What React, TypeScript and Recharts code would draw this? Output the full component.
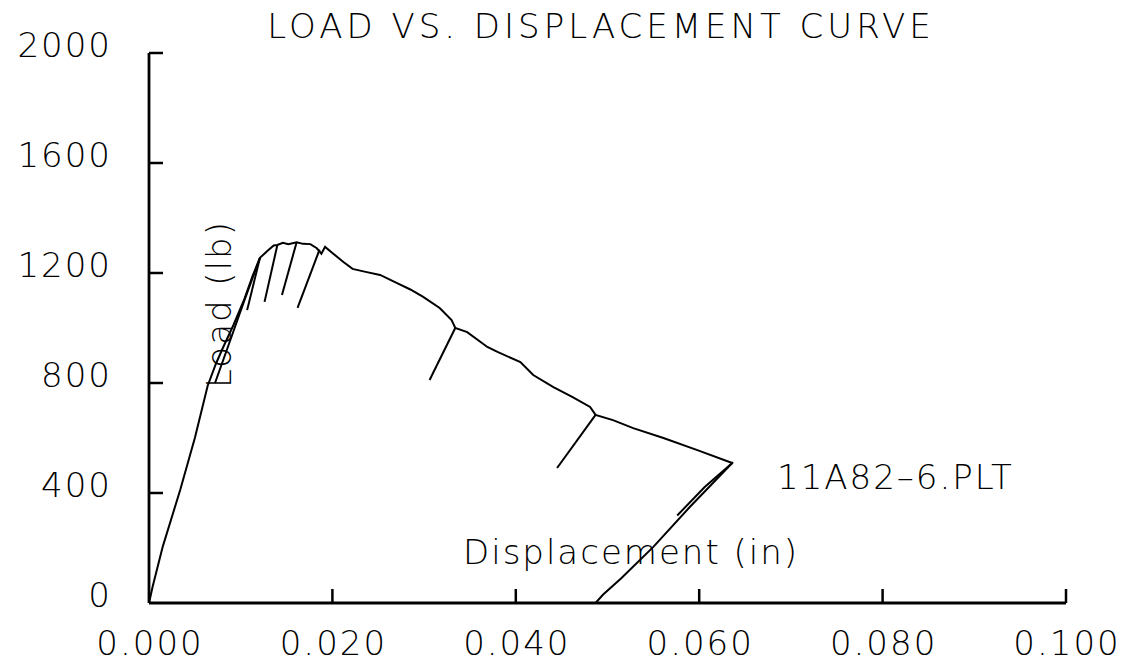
import React from 'react';
import { LineChart, Line, XAxis, YAxis } from 'recharts';

const FONT = '"DejaVu Sans", "Liberation Sans", sans-serif';

const xTicks = [0, 0.02, 0.04, 0.06, 0.08, 0.1];
const yTicks = [0, 400, 800, 1200, 1600, 2000];

const title = 'LOAD VS. DISPLACEMENT CURVE';
const xLabel = 'Displacement (in)';
const yLabel = 'Load (lb)';
const fileLabel = '11A82\u20136.PLT';

// [displacement (in), load (lb)]
const envelope: [number, number][] = [
  [0, 0], [0.0004, 60], [0.0015, 205], [0.0034, 411], [0.005, 600], [0.0064, 790], [0.0073, 870],
  [0.0081, 931], [0.0092, 1010], [0.0104, 1105], [0.0113, 1190], [0.0121, 1255],
  [0.0129, 1280], [0.0136, 1300], [0.014, 1302], [0.0146, 1310], [0.0152, 1305],
  [0.0161, 1312], [0.0168, 1306], [0.0176, 1305], [0.0183, 1290], [0.0188, 1270],
  [0.0192, 1295], [0.0201, 1270], [0.0212, 1240], [0.0222, 1215], [0.0235, 1205],
  [0.0252, 1193], [0.027, 1164], [0.0285, 1140], [0.0299, 1113], [0.0317, 1073],
  [0.033, 1029], [0.0334, 1000], [0.0347, 985], [0.0369, 931], [0.038, 913],
  [0.0405, 876], [0.0419, 829], [0.0441, 785], [0.0462, 749], [0.0481, 713],
  [0.0487, 684], [0.0506, 665], [0.0528, 636], [0.0561, 600], [0.0598, 556], [0.0636, 509],
];
const reload: [number, number][] = [[0.0072, 800], [0.0086, 931], [0.0104, 1100], [0.0121, 1255]];
const unloadA: [number, number][] = [[0.0121, 1255], [0.0107, 1065]];
const unloadB: [number, number][] = [[0.014, 1302], [0.0126, 1095]];
const unloadC: [number, number][] = [[0.0161, 1312], [0.0145, 1120]];
const unloadD: [number, number][] = [[0.0186, 1285], [0.0162, 1073]];
const unloadE: [number, number][] = [[0.0334, 1000], [0.0306, 811]];
const unloadF: [number, number][] = [[0.0487, 684], [0.0445, 491]];
const finalUnload: [number, number][] = [
  [0.0636, 509], [0.059, 350], [0.055, 204], [0.0515, 90], [0.0495, 30], [0.0487, 0],
];
const finalReload: [number, number][] = [[0.0576, 318], [0.0606, 422], [0.0637, 512]];

const seriesList = [envelope, reload, unloadA, unloadB, unloadC, unloadD, unloadE, unloadF, finalUnload, finalReload];

const toData = (pts: [number, number][]) => pts.map(([x, y]) => ({ x, y }));

const YTick = (props: any) => {
  const { x, y, payload } = props;
  return (
    <g>
      {payload.value !== 0 && (
        <line x1={x} y1={y} x2={x + 14} y2={y} stroke="#000" strokeWidth={2.5} />
      )}
      <text
        x={x - 37}
        y={y + 4}
        textAnchor="end"
        fontFamily={FONT}
        fontSize={34}
        fontWeight={200}
        letterSpacing={2}
        fill="#000"
      >
        {payload.value}
      </text>
    </g>
  );
};

const XTick = (props: any) => {
  const { x, y, payload } = props;
  return (
    <g>
      {payload.value !== 0 && (
        <line x1={x} y1={y} x2={x} y2={y - 14} stroke="#000" strokeWidth={2.5} />
      )}
      <text
        x={x + 1}
        y={y + 52}
        textAnchor="middle"
        fontFamily={FONT}
        fontSize={34}
        fontWeight={200}
        letterSpacing={2}
        fill="#000"
      >
        {payload.value.toFixed(3)}
      </text>
    </g>
  );
};

const textStyle = {
  fontFamily: FONT,
  fontSize: 34,
  fontWeight: 200,
  letterSpacing: 2,
  fill: '#000',
} as const;

export default function App() {
  return (
    <div style={{ position: 'absolute', left: 0, top: 0, width: 1125, height: 666, background: '#fff' }}>
      <LineChart
        width={1125}
        height={666}
        margin={{ top: 53, right: 59, bottom: 0, left: 0 }}
      >
        <XAxis
          dataKey="x"
          type="number"
          domain={[0, 0.1]}
          ticks={xTicks}
          interval={0}
          allowDataOverflow
          height={63}
          tickLine={false}
          tickSize={0}
          tickMargin={0}
          axisLine={{ stroke: '#000', strokeWidth: 2.8 }}
          tick={<XTick />}
        />
        <YAxis
          dataKey="y"
          type="number"
          domain={[0, 2000]}
          ticks={yTicks}
          interval={0}
          allowDataOverflow
          width={149}
          tickLine={false}
          tickSize={0}
          tickMargin={0}
          axisLine={{ stroke: '#000', strokeWidth: 2.8 }}
          tick={<YTick />}
        />
        {seriesList.map((s, i) => (
          <Line
            key={i}
            data={toData(s)}
            dataKey="y"
            type="linear"
            stroke="#000"
            strokeWidth={2}
            dot={false}
            activeDot={false}
            isAnimationActive={false}
          />
        ))}
      </LineChart>
      <svg width={1125} height={666} style={{ position: 'absolute', left: 0, top: 0, pointerEvents: 'none' }}>
        <text x={601} y={38} textAnchor="middle" {...textStyle} letterSpacing={4}>{title}</text>
        <text x={463} y={564} textAnchor="start" {...textStyle}>{xLabel}</text>
        <text x={231} y={388} textAnchor="start" transform="rotate(-90 231 388)" {...textStyle}>{yLabel}</text>
        <text x={777} y={489} textAnchor="start" {...textStyle}>{fileLabel}</text>
      </svg>
    </div>
  );
}
